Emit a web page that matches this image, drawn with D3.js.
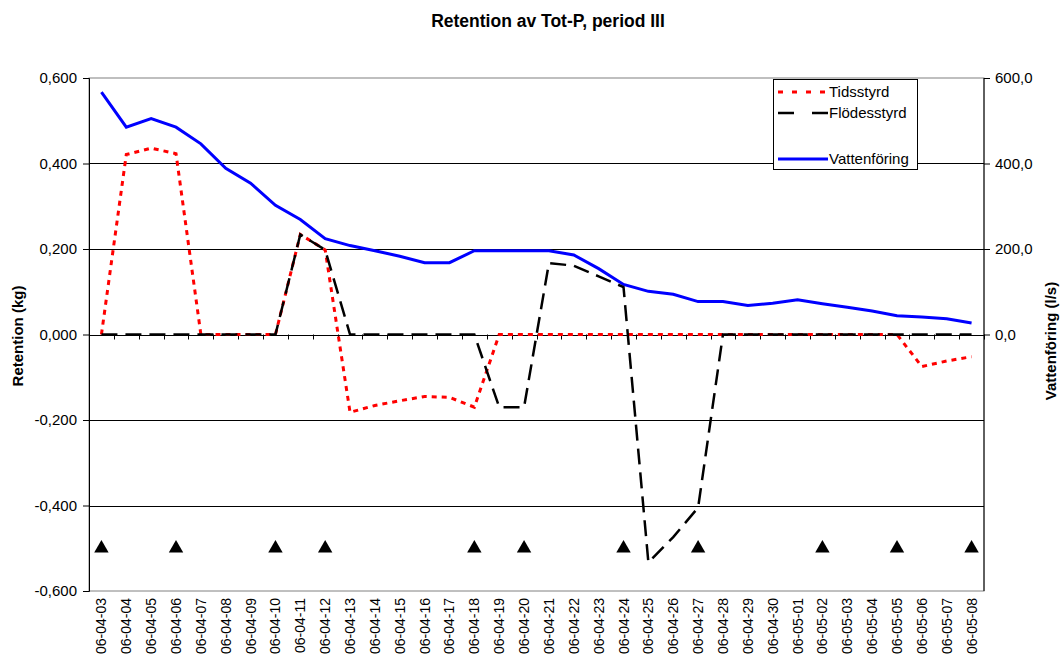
<!DOCTYPE html>
<html><head><meta charset="utf-8">
<script src="https://cdn.jsdelivr.net/npm/d3@7"></script>
<style>body{margin:0;background:#fff;} text{font-family:"Liberation Sans",Arial,sans-serif;}</style>
</head><body><svg id="c" width="1063" height="666"></svg>
<script>
const dates = ["06-04-03","06-04-04","06-04-05","06-04-06","06-04-07","06-04-08","06-04-09","06-04-10","06-04-11","06-04-12","06-04-13","06-04-14","06-04-15","06-04-16","06-04-17","06-04-18","06-04-19","06-04-20","06-04-21","06-04-22","06-04-23","06-04-24","06-04-25","06-04-26","06-04-27","06-04-28","06-04-29","06-04-30","06-05-01","06-05-02","06-05-03","06-05-04","06-05-05","06-05-06","06-05-07","06-05-08"];
const tidsstyrd = [0,0.421,0.436,0.423,0,0,0,0,0.234,0.198,-0.182,-0.166,-0.155,-0.145,-0.147,-0.170,0,0,0,0,0,0,0,0,0,0,0,0,0,0,0,0,0,-0.075,-0.062,-0.052];
const flodesstyrd = [0,0,0,0,0,0,0,0,0.234,0.198,0,0,0,0,0,0,-0.170,-0.170,0.167,0.161,0.136,0.111,-0.533,-0.474,-0.405,0,0,0,0,0,0,0,0,0,0,0];
const vattenforing = [567,485,505,485,446,389,354,302,269,224,208,196,183,168,168,196,196,196,196,186,154,117,101,94,77,77,68,73,81,72,64,55,44,41,37,27];
const provtagning = [-0.5,null,null,-0.5,null,null,null,-0.5,null,-0.5,null,null,null,null,null,-0.5,null,-0.5,null,null,null,-0.5,null,null,-0.5,null,null,null,null,-0.5,null,null,-0.5,null,null,-0.5];
const leftTicks = [0.6,0.4,0.2,0,-0.2,-0.4,-0.6];
const rightTicks = [600,400,200,0];

const svg = d3.select("#c");
const L=89, R=984, T=78, B=591;
const x = d3.scaleBand().domain(dates).range([L,R]);
const y = d3.scaleLinear().domain([-0.6,0.6]).range([B,T]);
const y2 = d3.scaleLinear().domain([-600,600]).range([B,T]);
const cx = d => x(d)+x.bandwidth()/2;
const fmtL = v => d3.format(".3f")(v).replace(".",",").replace("−","-");
const fmtR = v => d3.format(".1f")(v).replace(".",",");
const FF = "Liberation Sans, Arial, sans-serif";

// plot border
svg.append("rect").attr("x",L).attr("y",T).attr("width",R-L).attr("height",B-T).attr("fill","none").attr("stroke","#808080").attr("stroke-width",1);
// gridlines
svg.append("g").selectAll("line").data(leftTicks.filter(v=>v<0.6&&v>-0.6)).join("line")
 .attr("x1",L).attr("x2",R).attr("y1",d=>Math.round(y(d))+0.5).attr("y2",d=>Math.round(y(d))+0.5).attr("stroke","#000").attr("stroke-width",1);

// left axis
const la = svg.append("g").attr("transform",`translate(${L},0)`)
 .call(d3.axisLeft(y).tickValues(leftTicks).tickFormat(fmtL).tickSize(6).tickPadding(6));
la.select(".domain").attr("stroke","#000");
la.selectAll("text").attr("font-size",15).attr("fill","#000").attr("font-family",FF);
// right axis
const ra = svg.append("g").attr("transform",`translate(${R},0)`)
 .call(d3.axisRight(y2).tickValues(rightTicks).tickFormat(fmtR).tickSize(6).tickPadding(5));
ra.select(".domain").attr("stroke","#000").attr("d",`M0,${T}V${B}`);
ra.selectAll("text").attr("font-size",15).attr("fill","#000").attr("font-family",FF);
// category axis at zero
const boundaries = dates.map(d=>x(d)).concat([R]);
svg.append("g").selectAll("line").data(boundaries).join("line")
 .attr("x1",d=>Math.round(d)+0.5).attr("x2",d=>Math.round(d)+0.5).attr("y1",y(0)).attr("y2",y(0)+5).attr("stroke","#000");
svg.append("line").attr("x1",L).attr("x2",R).attr("y1",Math.round(y(0))+0.5).attr("y2",Math.round(y(0))+0.5).attr("stroke","#000");
// x labels
svg.append("g").selectAll("text").data(dates).join("text")
 .attr("transform",d=>`translate(${cx(d)+5},${B+7}) rotate(-90)`)
 .attr("text-anchor","end").attr("font-size",14).text(d=>d);

// lines
const line = (s,arr)=>d3.line().x((v,i)=>cx(dates[i])).y(v=>s(v))(arr);
svg.append("path").attr("d",line(y2,vattenforing)).attr("fill","none").attr("stroke","#0000ff").attr("stroke-width",3);
svg.append("path").attr("d",line(y,tidsstyrd)).attr("fill","none").attr("stroke","#ff0000").attr("stroke-width",3).attr("stroke-dasharray","5,5");
svg.append("path").attr("d",line(y,flodesstyrd)).attr("fill","none").attr("stroke","#000").attr("stroke-width",2.5).attr("stroke-dasharray","16,8");
// markers
const tri = d3.symbol().type(d3.symbolTriangle).size(90);
svg.append("g").selectAll("path").data(provtagning.map((v,i)=>({v,d:dates[i]})).filter(o=>o.v!==null)).join("path")
 .attr("d",tri).attr("transform",o=>`translate(${cx(o.d)},${y(o.v)})`).attr("fill","#000");

// titles
svg.append("text").attr("x",548).attr("y",27).attr("text-anchor","middle").attr("font-size",17.5).attr("font-weight","bold").text("Retention av Tot-P, period III");
svg.append("text").attr("transform",`translate(23,336) rotate(-90)`).attr("text-anchor","middle").attr("font-size",15).attr("font-weight","bold").text("Retention (kg)");
svg.append("text").attr("transform",`translate(1056,341) rotate(-90)`).attr("text-anchor","middle").attr("font-size",15).attr("font-weight","bold").text("Vattenföring (l/s)");

// legend
const lg = svg.append("g");
lg.append("rect").attr("x",773.5).attr("y",79.5).attr("width",144).attr("height",90).attr("fill","#fff").attr("stroke","#000");
const leg = [
 {t:"Tidsstyrd", c:"#ff0000", w:3, da:"5,9", yy:92},
 {t:"Flödesstyrd", c:"#000", w:2.5, da:"16,18", yy:113},
 {t:"Vattenföring", c:"#0000ff", w:3, da:null, yy:159}];
leg.forEach(e=>{
 lg.append("line").attr("x1",778).attr("x2",828).attr("y1",e.yy).attr("y2",e.yy).attr("stroke",e.c).attr("stroke-width",e.w).attr("stroke-dasharray",e.da);
 lg.append("text").attr("x",829).attr("y",e.yy+5).attr("font-size",15).text(e.t);
});
</script></body></html>
